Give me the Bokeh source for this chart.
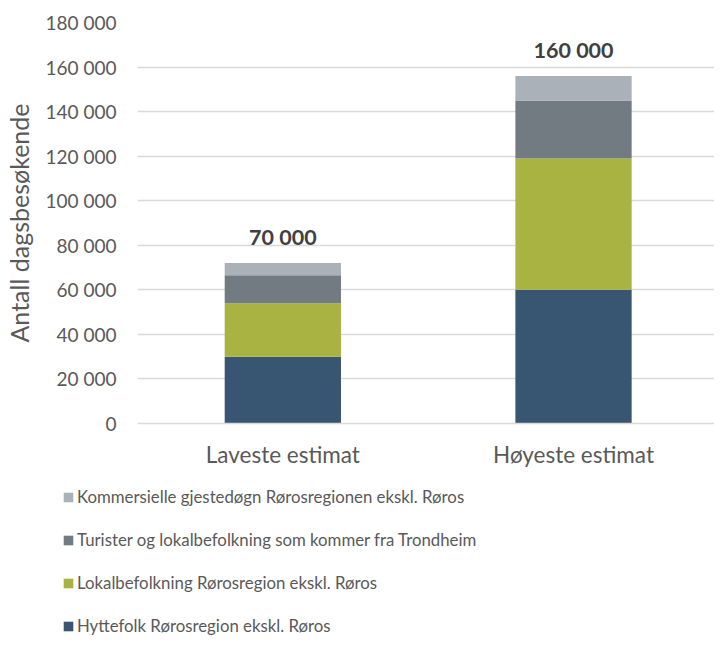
from bokeh.plotting import figure
from bokeh.layouts import column
from bokeh.models import Range1d, FixedTicker, Legend, LegendItem, ColumnDataSource
from bokeh.embed import file_html
from bokeh.resources import INLINE
from bokeh.core.properties import value

categories = ["Laveste estimat", "Høyeste estimat"]
series_names = [
    "Hyttefolk Rørosregion ekskl. Røros",
    "Lokalbefolkning Rørosregion ekskl. Røros",
    "Turister og lokalbefolkning som kommer fra Trondheim",
    "Kommersielle gjestedøgn Rørosregionen ekskl. Røros",
]
hyttefolk = [30000, 60000]
lokal = [24000, 59000]
turister = [12500, 26000]
kommersielle = [5500, 11000]
total_labels = ["70 000", "160 000"]
y_ticks = [0, 20000, 40000, 60000, 80000, 100000, 120000, 140000, 160000, 180000]
y_tick_labels = ["0", "20 000", "40 000", "60 000", "80 000", "100 000",
                 "120 000", "140 000", "160 000", "180 000"]

colors = ["#385571", "#a8b341", "#727a82", "#aab1b8"]
FONT = "Lato"
TXT = "#595959"

x = list(range(len(categories)))
series = [hyttefolk, lokal, turister, kommersielle]

# ---------- main chart ----------
p = figure(width=714, height=479, output_backend="svg", toolbar_location=None,
           x_range=Range1d(-0.5, 1.485), y_range=Range1d(0, 180000),
           min_border_left=127, min_border_right=0, min_border_top=22,
           min_border_bottom=56)
p.outline_line_color = None
p.frame_align = False

sources = []
bottoms = [0] * len(x)
for vals, col in zip(series, colors):
    tops = [b + v for b, v in zip(bottoms, vals)]
    src = ColumnDataSource(dict(x=x, bottom=bottoms, top=tops))
    p.vbar(x="x", bottom="bottom", top="top", width=0.4, source=src,
           fill_color=col, line_color=None)
    sources.append(src)
    bottoms = tops

lab_src = ColumnDataSource(dict(x=x, y=bottoms, text=total_labels))
p.text(x="x", y="y", text="text", source=lab_src, y_offset=-13,
       text_align="center", text_baseline="bottom", text_font=value(FONT),
       text_font_style="bold", text_font_size="21.5px", text_color="#404040")

p.yaxis.ticker = FixedTicker(ticks=y_ticks)
p.yaxis.major_label_overrides = {t: l for t, l in zip(y_ticks, y_tick_labels)}
p.yaxis.axis_line_color = None
p.yaxis.major_tick_line_color = None
p.yaxis.minor_tick_line_color = None
p.yaxis.major_tick_out = 0
p.yaxis.major_label_standoff = 21
p.yaxis.major_label_text_font = FONT
p.yaxis.major_label_text_font_size = "19px"
p.yaxis.major_label_text_color = TXT
p.yaxis.axis_label = "Antall dagsbesøkende"
p.yaxis.axis_label_text_font = FONT
p.yaxis.axis_label_text_font_size = "25px"
p.yaxis.axis_label_text_font_style = "normal"
p.yaxis.axis_label_text_color = TXT
p.yaxis.axis_label_standoff = 9

p.xaxis.ticker = FixedTicker(ticks=x)
p.xaxis.major_label_overrides = {i: c for i, c in zip(x, categories)}
p.xaxis.axis_line_color = "#d9d9d9"
p.xaxis.axis_line_width = 1.5
p.xaxis.major_tick_line_color = None
p.xaxis.minor_tick_line_color = None
p.xaxis.major_tick_out = 0
p.xaxis.major_label_standoff = 17
p.xaxis.major_label_text_font = FONT
p.xaxis.major_label_text_font_size = "22.5px"
p.xaxis.major_label_text_color = TXT

p.xgrid.grid_line_color = None
p.ygrid.grid_line_color = "#d9d9d9"
p.ygrid.grid_line_width = 1.5

# ---------- legend panel ----------
q = figure(width=714, height=157, output_backend="svg", toolbar_location=None,
           x_axis_type=None, y_axis_type=None,
           x_range=Range1d(-0.5, 1.485), y_range=Range1d(0, 180000),
           min_border=0)
q.outline_line_color = None
q.grid.visible = False
q.frame_align = False

leg_renderers = []
for src, col in zip(sources, colors):
    r = q.vbar(x="x", bottom="bottom", top="top", width=0.4, source=src,
               fill_color=col, line_color=None)
    r.visible = False
    leg_renderers.append(r)

items = [LegendItem(label=n, renderers=[r]) for n, r in zip(series_names, leg_renderers)]
items = items[::-1]
legend = Legend(items=items, location=(62, 0), orientation="vertical",
                glyph_width=12, glyph_height=12, label_height=20, spacing=22,
                label_standoff=3, padding=0, margin=0,
                border_line_color=None, background_fill_alpha=0,
                label_text_font=FONT, label_text_font_size="16.8px",
                label_text_color=TXT)
q.add_layout(legend, "center")

layout = column(p, q)
open("out.html", "w").write(file_html(layout, INLINE))
